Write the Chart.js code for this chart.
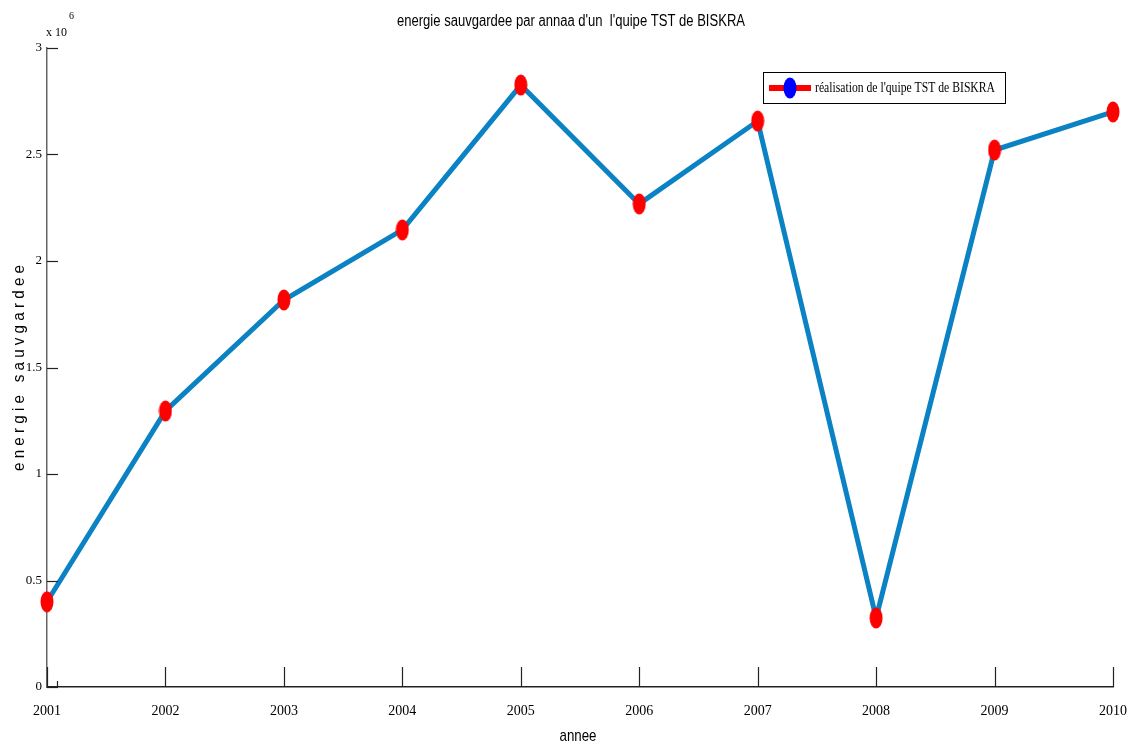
<!DOCTYPE html>
<html><head><meta charset="utf-8">
<script src="https://cdn.jsdelivr.net/npm/chart.js@4/dist/chart.umd.min.js"></script>
<style>html,body{margin:0;padding:0;background:#fff}#wrap{width:1137px;height:747px}</style>
</head><body><div id="wrap"><canvas id="c" width="1137" height="747"></canvas></div>
<script>
const years = ['2001','2002','2003','2004','2005','2006','2007','2008','2009','2010'];
const energie = [400000, 1296000, 1817000, 2146000, 2826000, 2268000, 2657000, 324000, 2521000, 2700000];
const yTicks = [0, 500000, 1000000, 1500000, 2000000, 2500000, 3000000];
const yTickLabels = ['0', '0.5', '1', '1.5', '2', '2.5', '3'];
const titleText = "energie sauvgardee par annaa d'un  l'quipe TST de BISKRA";
const legendText = "réalisation de l'quipe TST de BISKRA";
const xTitle = 'annee';
const yTitle = 'e n e r g i e   s a u v g a r d e e';

function ellipse(color){
  const c = document.createElement('canvas'); c.width = 14; c.height = 22;
  const g = c.getContext('2d'); g.fillStyle = color;
  g.beginPath(); g.ellipse(7, 11, 6.5, 10.5, 0, 0, Math.PI*2); g.fill();
  return c;
}
const redPt = ellipse('#ff0000');
const bluePt = ellipse('#0000ff');

const serif = "'Liberation Serif', 'DejaVu Serif', serif";
const narrow = "'Liberation Sans Narrow', 'Liberation Sans', Arial, sans-serif";

function fitText(ctx, text, x, y, width, align){
  const w = ctx.measureText(text).width;
  const s = width / w;
  ctx.save(); ctx.translate(x, y); ctx.scale(s, 1);
  ctx.textAlign = align; ctx.fillText(text, 0, 0); ctx.restore();
}

const deco = {
  id: 'deco',
  afterDraw(chart){
    const ctx = chart.ctx, xs = chart.scales.x, ys = chart.scales.y, a = chart.chartArea;
    ctx.save();
    // ticks inside
    ctx.strokeStyle = '#222'; ctx.lineWidth = 1.2;
    years.forEach((y,i)=>{ const px = Math.round(xs.getPixelForValue(i))+0.5;
      ctx.beginPath(); ctx.moveTo(px, a.bottom); ctx.lineTo(px, a.bottom-20); ctx.stroke(); });
    yTicks.forEach(v=>{ const py = Math.round(ys.getPixelForValue(v))+0.5;
      ctx.beginPath(); ctx.moveTo(a.left, py); ctx.lineTo(a.left+11, py); ctx.stroke(); });
    ctx.beginPath(); ctx.moveTo(a.left+10.5, a.bottom); ctx.lineTo(a.left+10.5, a.bottom-6); ctx.stroke();
    // title
    ctx.fillStyle = '#000';
    ctx.font = "16px " + narrow; ctx.textBaseline = 'middle';
    fitText(ctx, titleText, 571, 22, 348, 'center');
    // x title
    ctx.font = "17px " + narrow;
    fitText(ctx, xTitle, 578, 736, 37, 'center');
    // y title
    ctx.save(); ctx.translate(19, 368); ctx.rotate(-Math.PI/2);
    ctx.font = "17px " + narrow; fitText(ctx, yTitle, 0, 0, 206, 'center'); ctx.restore();
    // exponent
    ctx.font = "12px " + serif; ctx.textAlign = 'left';
    ctx.fillText('x 10', 46, 33);
    ctx.font = "10px " + serif; ctx.fillText('6', 69, 16);
    // legend box
    ctx.strokeStyle = '#000'; ctx.lineWidth = 1;
    ctx.fillStyle = '#fff';
    ctx.fillRect(763.5, 72.5, 242, 31); ctx.strokeRect(763.5, 72.5, 242, 31);
    ctx.strokeStyle = '#ff0000'; ctx.lineWidth = 6;
    ctx.beginPath(); ctx.moveTo(769, 88); ctx.lineTo(811, 88); ctx.stroke();
    ctx.drawImage(bluePt, 783, 77);
    ctx.fillStyle = '#000'; ctx.font = "14px " + serif; ctx.textBaseline = 'middle';
    fitText(ctx, legendText, 815, 88, 180, 'left');
    ctx.restore();
  }
};

new Chart(document.getElementById('c'), {
  type: 'line',
  data: { labels: years, datasets: [{
    label: legendText, data: energie,
    borderColor: '#0a82c4', borderWidth: 5, tension: 0,
    pointStyle: redPt, pointRadius: 10, pointHoverRadius: 10
  }]},
  options: {
    responsive: false, animation: false, devicePixelRatio: 1,
    layout: { padding: { top: 48, right: 24, left: 0, bottom: 0 } },
    plugins: { legend: { display: false }, title: { display: false }, tooltip: { enabled: false } },
    scales: {
      x: { type: 'category', offset: false,
        grid: { display: false, drawTicks: false },
        border: { display: true, color: '#222', width: 1.5 },
        ticks: { padding: 16, maxRotation: 0, autoSkip: false, color: '#000', font: { family: serif, size: 14 } },
        afterFit(s){ s.height = 60; s.paddingRight = 0; s.paddingLeft = 0; }
      },
      y: { min: 0, max: 3000000,
        grid: { display: false, drawTicks: false },
        border: { display: true, color: '#666', width: 1.5 },
        afterBuildTicks(s){ s.ticks = yTicks.map(v=>({value:v})); },
        ticks: { padding: 5, color: '#000', font: { family: serif, size: 13 },
          callback(v){ const i = yTicks.indexOf(v); return i>=0 ? yTickLabels[i] : ''; } },
        afterFit(s){ s.width = 47; s.paddingTop = 0; s.paddingBottom = 0; }
      }
    }
  },
  plugins: [deco]
});
</script></body></html>
